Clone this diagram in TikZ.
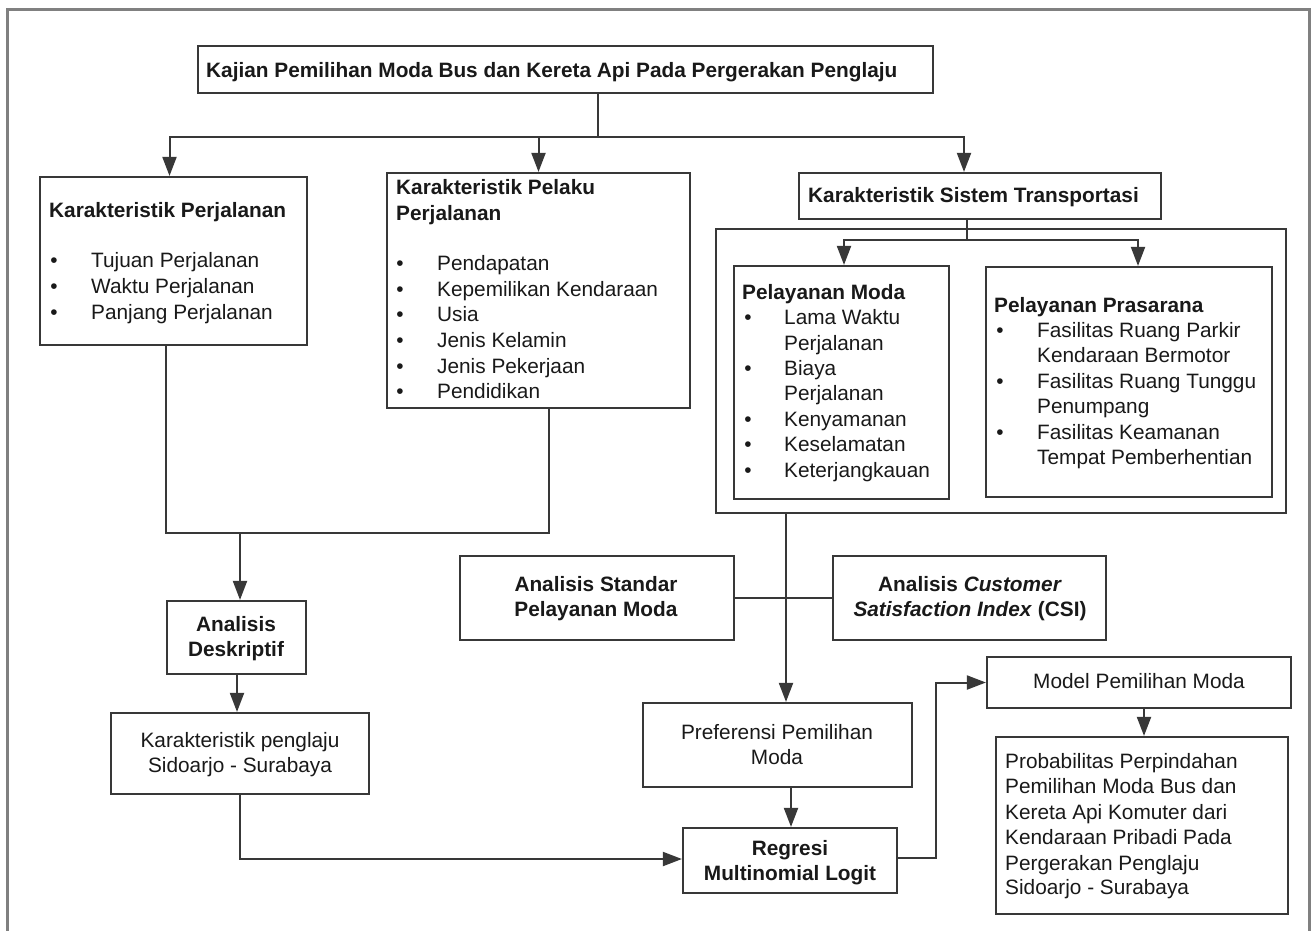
\documentclass[tikz,border=0pt]{standalone}
\usepackage{fontspec}
\setmainfont{Liberation Sans}
\usetikzlibrary{arrows.meta}
\begin{document}
\begin{tikzpicture}[x=1pt,y=-1pt,
  every node/.style={font=\fontsize{20.8}{25.4}\selectfont},
  txt/.style={anchor=base west, inner sep=0pt, text=black!90},
  ctr/.style={anchor=base, inner sep=0pt, text=black!90},
  bul/.style={anchor=base, inner sep=0pt, text=black!90},
  box/.style={draw=black!78, line width=2.2pt, inner sep=0pt, fill=white},
  con/.style={draw=black!78, line width=2pt},
  arr/.style={con, -{Triangle[length=19pt,width=14pt]}},
  frame/.style={draw=black!50, line width=3pt}]
\useasboundingbox (0,0) rectangle (1314,930);
\fill[white] (0,0) rectangle (1314,930);
% outer frame
\coordinate (fa) at (7,940);
\coordinate (fb) at (7,9);
\coordinate (fc) at (1309,9);
\coordinate (fd) at (1309,940);
\draw[frame] (fa) -- (fb) -- (fc) -- (fd);

% boxes
\node[box, minimum width=735, minimum height=47] (title) at (565.5,69.5) {};
\node[box, minimum width=267, minimum height=168] (kp) at (173.5,261) {};
\node[box, minimum width=303, minimum height=235] (kpp) at (538.5,290.5) {};
\node[box, minimum width=362, minimum height=46] (kst) at (980,196) {};
\node[box, minimum width=570, minimum height=284] (cont) at (1001,371) {};
\node[box, minimum width=215, minimum height=233] (pm) at (841.5,382.5) {};
\node[box, minimum width=286, minimum height=230] (pp) at (1129,382) {};
\node[box, minimum width=139, minimum height=73] (ad) at (236.5,637.5) {};
\node[box, minimum width=258, minimum height=81] (kps) at (240,753.5) {};
\node[box, minimum width=274, minimum height=84] (asp) at (597,598) {};
\node[box, minimum width=273, minimum height=84] (csi) at (969.5,598) {};
\node[box, minimum width=269, minimum height=84] (ppm) at (777.5,745) {};
\node[box, minimum width=214, minimum height=65] (reg) at (790,860.5) {};
\node[box, minimum width=304, minimum height=51] (mpm) at (1139,682.5) {};
\node[box, minimum width=292, minimum height=177] (prob) at (1142,825.5) {};

% texts
\node[txt] (t0) at (206,77) {\textbf{Kajian Pemilihan Moda Bus dan Kereta Api Pada Pergerakan Penglaju}};

\node[txt] (kp0) at (49,217) {\textbf{Karakteristik Perjalanan}};
\node[bul] (kpb1) at (54,267) {•};
\node[bul] (kpb2) at (54,293) {•};
\node[bul] (kpb3) at (54,319) {•};
\node[txt] (kp1) at (91,267) {Tujuan Perjalanan};
\node[txt] (kp2) at (91,293) {Waktu Perjalanan};
\node[txt] (kp3) at (91,319) {Panjang Perjalanan};

\node[txt] (kpp0a) at (396,194) {\textbf{Karakteristik Pelaku}};
\node[txt] (kpp0b) at (396,220) {\textbf{Perjalanan}};
\node[bul] (kppb1) at (400,270) {•};
\node[bul] (kppb2) at (400,296) {•};
\node[bul] (kppb3) at (400,321) {•};
\node[bul] (kppb4) at (400,347) {•};
\node[bul] (kppb5) at (400,373) {•};
\node[bul] (kppb6) at (400,398) {•};
\node[txt] (kpp1) at (437,270) {Pendapatan};
\node[txt] (kpp2) at (437,296) {Kepemilikan Kendaraan};
\node[txt] (kpp3) at (437,321) {Usia};
\node[txt] (kpp4) at (437,347) {Jenis Kelamin};
\node[txt] (kpp5) at (437,373) {Jenis Pekerjaan};
\node[txt] (kpp6) at (437,398) {Pendidikan};

\node[txt] (kst0) at (808,202) {\textbf{Karakteristik Sistem Transportasi}};

\node[txt] (pm0) at (742,299) {\textbf{Pelayanan Moda}};
\node[bul] (pmb1) at (748,324) {•};
\node[bul] (pmb2) at (748,375) {•};
\node[bul] (pmb3) at (748,426) {•};
\node[bul] (pmb4) at (748,451) {•};
\node[bul] (pmb5) at (748,477) {•};
\node[txt] (pm1) at (784,324) {Lama Waktu};
\node[txt] (pm2) at (784,350) {Perjalanan};
\node[txt] (pm3) at (784,375) {Biaya};
\node[txt] (pm4) at (784,400) {Perjalanan};
\node[txt] (pm5) at (784,426) {Kenyamanan};
\node[txt] (pm6) at (784,451) {Keselamatan};
\node[txt] (pm7) at (784,477) {Keterjangkauan};

\node[txt] (pp0) at (994,312) {\textbf{Pelayanan Prasarana}};
\node[bul] (ppb1) at (1000,337) {•};
\node[bul] (ppb2) at (1000,388) {•};
\node[bul] (ppb3) at (1000,439) {•};
\node[txt] (pp1) at (1037,337) {Fasilitas Ruang Parkir};
\node[txt] (pp2) at (1037,362) {Kendaraan Bermotor};
\node[txt] (pp3) at (1037,388) {Fasilitas Ruang Tunggu};
\node[txt] (pp4) at (1037,413) {Penumpang};
\node[txt] (pp5) at (1037,439) {Fasilitas Keamanan};
\node[txt] (pp6) at (1037,464) {Tempat Pemberhentian};

\node[ctr] (ad1) at (236,631) {\textbf{Analisis}};
\node[ctr] (ad2) at (236,656) {\textbf{Deskriptif}};

\node[ctr] (kps1) at (240,747) {Karakteristik penglaju};
\node[ctr] (kps2) at (240,772) {Sidoarjo - Surabaya};

\node[ctr] (asp1) at (596,591) {\textbf{Analisis Standar}};
\node[ctr] (asp2) at (596,616) {\textbf{Pelayanan Moda}};

\node[ctr] (csi1) at (970,591) {\textbf{Analisis \textit{Customer}}};
\node[ctr] (csi2) at (970,616) {\textbf{\textit{Satisfaction Index} (CSI)}};

\node[ctr] (ppm1) at (777,739) {Preferensi Pemilihan};
\node[ctr] (ppm2) at (777,764) {Moda};

\node[ctr] (reg1) at (790,855) {\textbf{Regresi}};
\node[ctr] (reg2) at (790,880) {\textbf{Multinomial Logit}};

\node[ctr] (mpm1) at (1139,688) {Model Pemilihan Moda};

\node[txt] (pr1) at (1005,768) {Probabilitas Perpindahan};
\node[txt] (pr2) at (1005,793) {Pemilihan Moda Bus dan};
\node[txt] (pr3) at (1005,819) {Kereta Api Komuter dari};
\node[txt] (pr4) at (1005,844) {Kendaraan Pribadi Pada};
\node[txt] (pr5) at (1005,870) {Pergerakan Penglaju};
\node[txt] (pr6) at (1005,894) {Sidoarjo - Surabaya};

% connectors
\coordinate (j1) at (598,137);
\draw[con] (j1 |- title.south) -- (j1);
\draw[arr] (j1) -| ([xshift=-4pt]kp.north);
\draw[arr] (j1) -| (kpp.north);
\draw[arr] (j1) -| ([xshift=-16pt]kst.north);

\coordinate (j2) at (967,240);
\draw[con] (j2 |- kst.south) -- (j2);
\draw[arr] (j2) -| ([xshift=2.5pt]pm.north);
\draw[arr] (j2) -| ([xshift=9pt]pp.north);

\coordinate (j3) at (166,533);
\coordinate (j4) at (549,533);
\coordinate (j5) at (240,533);
\draw[con] (j3 |- kp.south) -- (j3) -- (j4) -- (j4 |- kpp.south);
\draw[arr] (j5) -- (j5 |- ad.north);

\coordinate (j6) at (237,674);
\draw[arr] (j6 |- ad.south) -- (j6 |- kps.north);

\coordinate (j7) at (240,859);
\draw[arr] (j7 |- kps.south) -- (j7) -- (j7 -| reg.west);

\coordinate (j8) at (786,560);
\draw[arr] (j8 |- cont.south) -- (j8 |- ppm.north);
\draw[con] (asp.east) -- (csi.west);

\coordinate (j9) at (791,790);
\draw[arr] (j9 |- ppm.south) -- (j9 |- reg.north);

\coordinate (j10) at (936,858);
\draw[arr] (j10 -| reg.east) -- (j10) |- (mpm.west);

\coordinate (j11) at (1144,720);
\draw[arr] (j11 |- mpm.south) -- (j11 |- prob.north);
\end{tikzpicture}
\end{document}
